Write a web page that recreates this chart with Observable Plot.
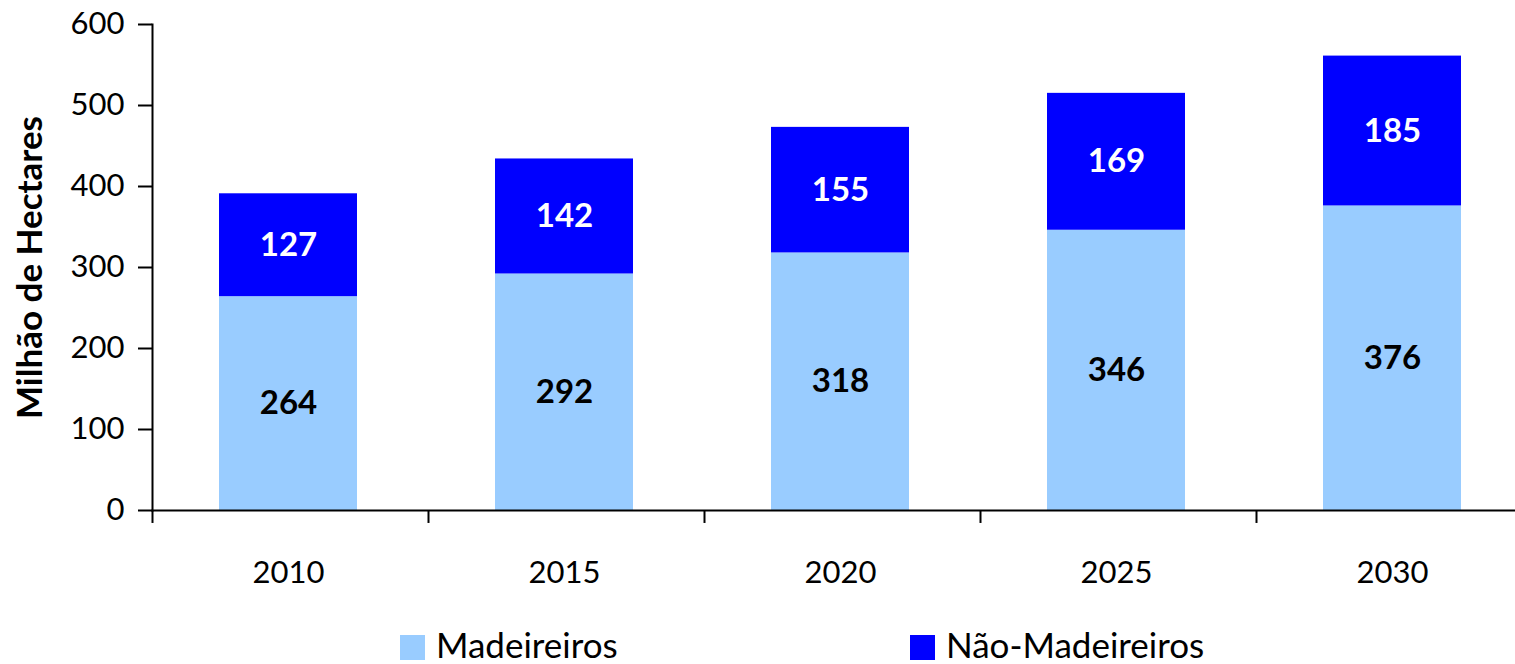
<!DOCTYPE html>
<html>
<head>
<meta charset="utf-8">
<script src="https://cdn.jsdelivr.net/npm/d3@7"></script>
<script src="https://cdn.jsdelivr.net/npm/@observablehq/plot@0.6"></script>
<style>
  body { margin: 0; background: #fff; font-family: Lato, "Open Sans", sans-serif; }
  #wrap { position: relative; width: 1515px; height: 664px; overflow: hidden; }
  #chart svg { display: block; }
  #chart g[aria-label="y-axis label"] text { font-weight: bold; font-size: 35px; }
  .legend { position: absolute; top: 627px; height: 35px; font-size: 35px; line-height: 35px; color: #000; white-space: nowrap; }
  .legend .sw { position: absolute; left: 0; top: 8px; width: 25px; height: 25px; }
  .legend span { position: absolute; left: 36px; top: 0; }
</style>
</head>
<body>
<div id="wrap">
  <div id="chart"></div>
  <div id="legend"></div>
</div>
<script>
const years = ["2010", "2015", "2020", "2025", "2030"];
const seriesNames = ["Madeireiros", "Não-Madeireiros"];
const madeireiros = [264, 292, 318, 346, 376];
const naoMadeireiros = [127, 142, 155, 169, 185];
const colors = ["#99CCFF", "#0000FF"];
const labelColors = ["#000000", "#FFFFFF"];
const yTicks = [0, 100, 200, 300, 400, 500, 600];

const data = [];
years.forEach((yr, i) => {
  data.push({year: yr, series: seriesNames[0], value: madeireiros[i], mid: madeireiros[i] / 2});
  data.push({year: yr, series: seriesNames[1], value: naoMadeireiros[i], mid: madeireiros[i] + naoMadeireiros[i] / 2});
});

const chart = Plot.plot({
  width: 1515,
  height: 620,
  marginTop: 24,
  marginBottom: 110,
  marginLeft: 152,
  marginRight: 0,
  style: {fontFamily: "Lato, 'Open Sans', sans-serif", fontSize: "31px", color: "#000", background: "#fff"},
  x: {domain: years, range: [150, 1530], paddingInner: 0.5, paddingOuter: 0.25},
  y: {domain: [0, 600], ticks: yTicks},
  color: {domain: seriesNames, range: colors},
  marks: [
    Plot.barY(data, {x: "year", y: "value", fill: "series", z: "series"}),
    Plot.text(data, {
      x: "year", y: "mid", text: d => String(d.value),
      fill: d => labelColors[seriesNames.indexOf(d.series)],
      fontWeight: "bold", fontSize: 33
    }),
    Plot.frame({anchor: "left", stroke: "#000", strokeWidth: 2}),
    Plot.frame({anchor: "bottom", stroke: "#000", strokeWidth: 2}),
    Plot.ruleX(years, {x: d => d, dx: -136, y1: 0, y2: -16, stroke: "#000", strokeWidth: 2, clip: false}),
    Plot.axisY({
      ticks: yTicks, tickSize: 14, tickPadding: 14, tickFormat: d => String(d),
      strokeWidth: 2, fontSize: 31,
      label: "Milhão de Hectares", labelAnchor: "center", labelArrow: "none", labelOffset: 135
    }),
    Plot.axisX({tickSize: 0, tickPadding: 50, fontSize: 31, label: null})
  ]
});
document.getElementById("chart").appendChild(chart);

const legend = document.getElementById("legend");
const legendLeft = [400, 910];
seriesNames.forEach((name, i) => {
  const item = document.createElement("div");
  item.className = "legend";
  item.style.left = legendLeft[i] + "px";
  const sw = document.createElement("div");
  sw.className = "sw";
  sw.style.background = colors[i];
  const t = document.createElement("span");
  t.textContent = name;
  item.appendChild(sw);
  item.appendChild(t);
  legend.appendChild(item);
});
</script>
</body>
</html>
